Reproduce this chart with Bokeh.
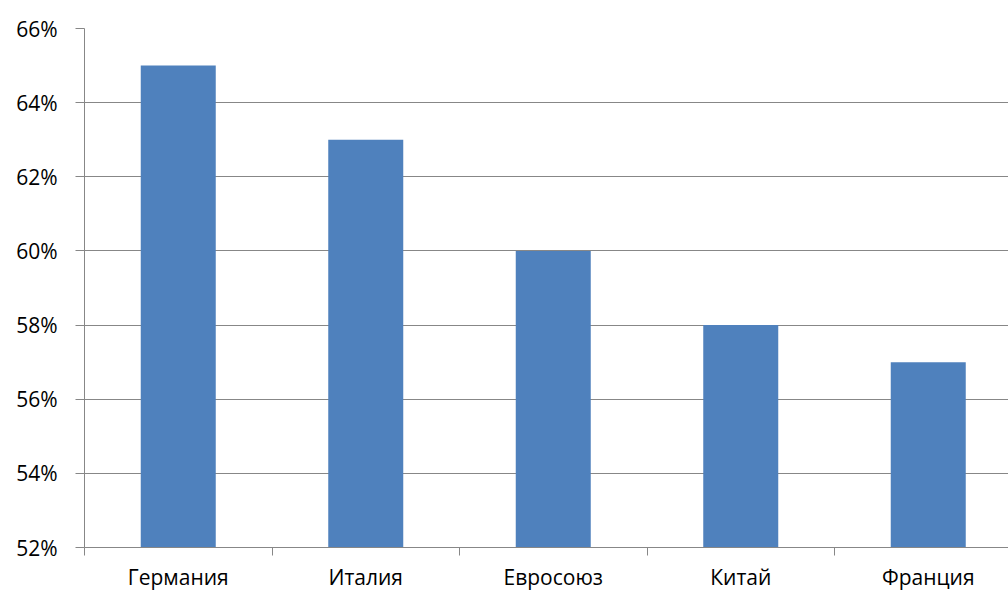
from bokeh.plotting import figure
from bokeh.models import FixedTicker, LinearAxis, Range1d, NumeralTickFormatter
from bokeh.embed import file_html
from bokeh.resources import INLINE

categories = ["Германия", "Италия", "Евросоюз", "Китай", "Франция"]
values = [0.65, 0.63, 0.60, 0.58, 0.57]
y_ticks = [0.52, 0.54, 0.56, 0.58, 0.60, 0.62, 0.64, 0.66]

n = len(categories)
centers = [i + 0.5 for i in range(n)]
bounds = list(range(n + 1))

FONT = "Open Sans"
GRID = "#878787"

p = figure(width=1008, height=593, output_backend="svg", toolbar_location=None,
           x_range=Range1d(0, (1008 - 84) / 187.5), y_range=Range1d(0.52, 0.66),
           min_border_left=84, min_border_top=28, min_border_bottom=45, min_border_right=0)
p.outline_line_color = None
p.background_fill_color = "white"
p.border_fill_color = "white"

p.vbar(x=centers, top=values, bottom=0.52, width=0.4, color="#4F81BD", line_color=None)

# y axis
ya = p.yaxis[0]
ya.ticker = FixedTicker(ticks=y_ticks)
ya.formatter = NumeralTickFormatter(format="0%")
ya.axis_line_color = GRID
ya.major_tick_line_color = GRID
ya.major_tick_out = 9
ya.major_tick_in = 0
ya.minor_tick_line_color = None
ya.major_label_text_font = FONT
ya.major_label_text_font_size = "21px"
ya.major_label_text_color = "black"
ya.major_label_standoff = 18

p.ygrid.ticker = FixedTicker(ticks=y_ticks)
p.ygrid.grid_line_color = GRID
p.xgrid.grid_line_color = None

# x axis with boundary ticks
xa = p.xaxis[0]
xa.ticker = FixedTicker(ticks=bounds)
xa.major_label_overrides = {b: "" for b in bounds}
xa.major_label_text_font_size = "1px"
xa.axis_line_color = GRID
xa.major_tick_line_color = GRID
xa.major_tick_out = 8
xa.major_tick_in = 0
xa.minor_tick_line_color = None
xa.major_label_standoff = 0

# x axis with category labels
xl = LinearAxis(ticker=FixedTicker(ticks=centers),
                major_label_overrides={c: name for c, name in zip(centers, categories)})
xl.axis_line_color = None
xl.major_tick_line_color = None
xl.minor_tick_line_color = None
xl.major_label_text_font = FONT
xl.major_label_text_font_size = "21px"
xl.major_label_text_color = "black"
xl.major_label_standoff = 1
p.add_layout(xl, "below")

open("out.html", "w").write(file_html(p, INLINE))
